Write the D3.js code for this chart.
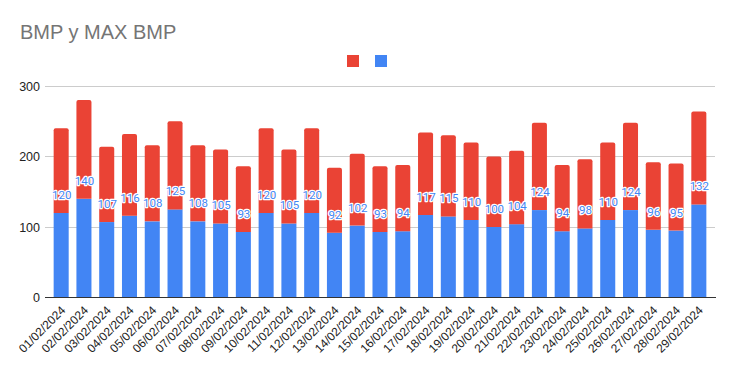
<!DOCTYPE html>
<html>
<head>
<meta charset="utf-8">
<script src="https://cdn.jsdelivr.net/npm/d3@7"></script>
<style>
  html, body { margin: 0; padding: 0; background: #fff; }
  svg { display: block; font-family: Arial, "Liberation Sans", sans-serif; }
</style>
</head>
<body>
<svg id="chart" width="734" height="371"></svg>
<script>
const dates = [
  '01/02/2024', '02/02/2024', '03/02/2024', '04/02/2024', '05/02/2024', '06/02/2024',
  '07/02/2024', '08/02/2024', '09/02/2024', '10/02/2024', '11/02/2024', '12/02/2024',
  '13/02/2024', '14/02/2024', '15/02/2024', '16/02/2024', '17/02/2024', '18/02/2024',
  '19/02/2024', '20/02/2024', '21/02/2024', '22/02/2024', '23/02/2024', '24/02/2024',
  '25/02/2024', '26/02/2024', '27/02/2024', '28/02/2024', '29/02/2024'
]
// BMP (blue, bottom of stack)
const bmp = [120, 140, 107, 116, 108, 125, 108, 105, 93, 120, 105, 120, 92, 102, 93,
  94, 117, 115, 110, 100, 104, 124, 94, 98, 110, 124, 96, 95, 132]
// MAX BMP (red, stacked on top)
const maxBmp = [120, 140, 107, 116, 108, 125, 108, 105, 93, 120, 105, 120, 92, 102, 93,
  94, 117, 115, 110, 100, 104, 124, 94, 98, 110, 124, 96, 95, 132]
const yTicks = [0, 100, 200, 300]

const BLUE = '#4285f4'
const RED = '#ea4335'

const svg = d3.select('#chart')

const x = d3.scaleBand()
  .domain(dates)
  .range([45, 715])
  .paddingInner(0.34)
  .paddingOuter(0.38)

const y = d3.scaleLinear().domain([0, 300]).range([297.5, 86])

const rows = dates.map((d, i) => ({ date: d, bmp: bmp[i], max: maxBmp[i] }))

// title
svg.append('text')
  .attr('x', 20)
  .attr('y', 38.5)
  .attr('font-size', '20px')
  .attr('fill', '#757575')
  .text('BMP y MAX BMP')

// legend (series have no names)
svg.append('rect').attr('x', 347).attr('y', 55).attr('width', 12).attr('height', 12).attr('fill', RED)
svg.append('rect').attr('x', 375).attr('y', 55).attr('width', 12).attr('height', 12).attr('fill', BLUE)

// grid
svg.append('g')
  .selectAll('line')
  .data(yTicks.filter(t => t > 0))
  .enter().append('line')
  .attr('x1', 45).attr('x2', 715)
  .attr('y1', d => y(d)).attr('y2', d => y(d))
  .attr('stroke', '#cccccc')
  .attr('stroke-width', 1)
  .attr('shape-rendering', 'crispEdges')

// y axis labels
svg.append('g')
  .selectAll('text')
  .data(yTicks)
  .enter().append('text')
  .attr('x', 40)
  .attr('y', d => y(d) + 4.5)
  .attr('text-anchor', 'end')
  .attr('font-size', '12.5px')
  .attr('fill', '#222')
  .text(d => d)

const bw = x.bandwidth()
const r = 2

// blue bars
svg.append('g')
  .selectAll('rect')
  .data(rows)
  .enter().append('rect')
  .attr('x', d => x(d.date))
  .attr('y', d => y(d.bmp))
  .attr('width', bw)
  .attr('height', d => y(0) - y(d.bmp))
  .attr('fill', BLUE)

// red bars with rounded top
svg.append('g')
  .selectAll('path')
  .data(rows)
  .enter().append('path')
  .attr('fill', RED)
  .attr('d', d => {
    const x0 = x(d.date), x1 = x0 + bw
    const top = y(d.bmp + d.max), bot = y(d.bmp)
    return `M${x0},${bot}V${top + r}Q${x0},${top} ${x0 + r},${top}H${x1 - r}Q${x1},${top} ${x1},${top + r}V${bot}Z`
  })

// axis baseline
svg.append('line')
  .attr('x1', 45).attr('x2', 716)
  .attr('y1', y(0)).attr('y2', y(0))
  .attr('stroke', '#333')
  .attr('stroke-width', 1.2)

// data labels
svg.append('g')
  .selectAll('text')
  .data(rows)
  .enter().append('text')
  .attr('x', d => x(d.date) + bw / 2 + 0.5)
  .attr('y', d => y(d.bmp) - 14)
  .attr('text-anchor', 'middle')
  .attr('font-family', 'Roboto, Arial, sans-serif')
  .attr('font-size', '11.5px')
  .attr('fill', BLUE)
  .attr('stroke', '#fff')
  .attr('stroke-width', 2.5)
  .attr('stroke-linejoin', 'round')
  .attr('paint-order', 'stroke')
  .text(d => d.bmp)

// x axis labels
svg.append('g')
  .selectAll('text')
  .data(dates)
  .enter().append('text')
  .attr('transform', d => `translate(${x(d) + bw / 2 + 5},${311}) rotate(-45)`)
  .attr('text-anchor', 'end')
  .attr('font-size', '12px')
  .attr('fill', '#222')
  .text(d => d)
</script>
</body>
</html>
